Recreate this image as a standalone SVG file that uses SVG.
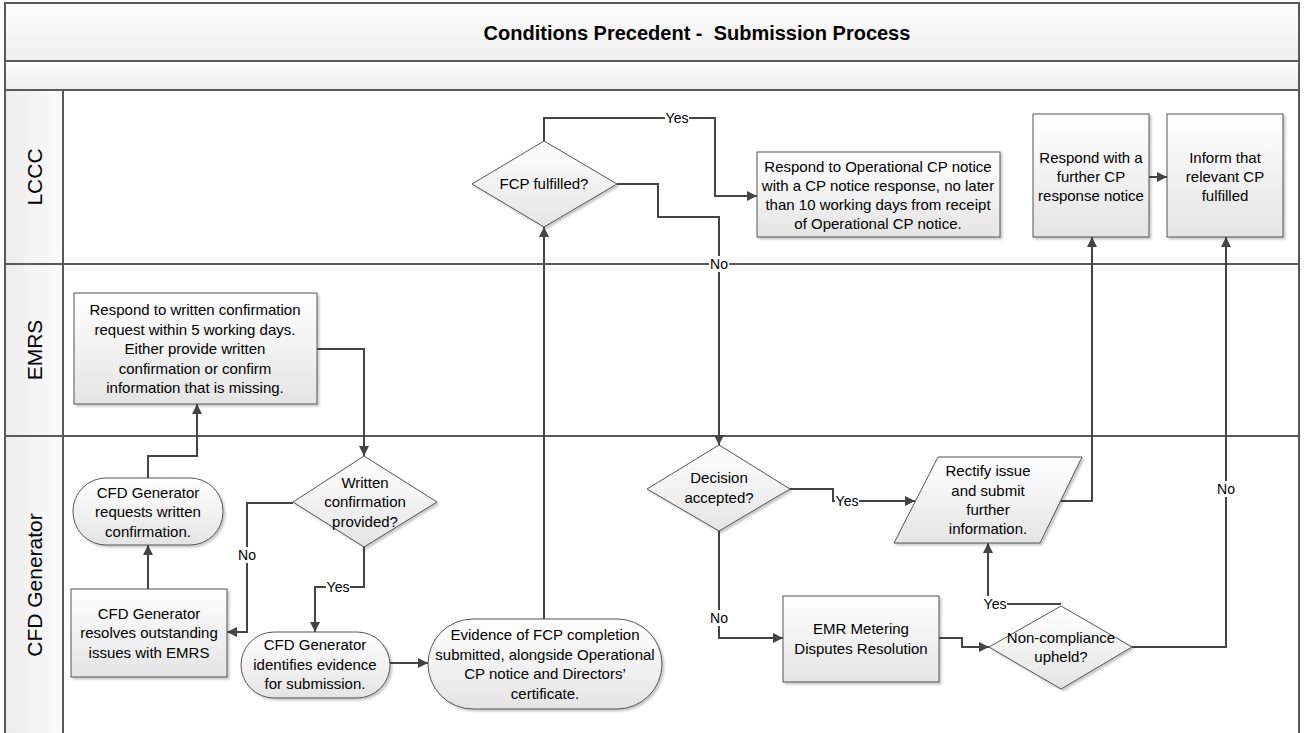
<svg xmlns="http://www.w3.org/2000/svg" width="1305" height="733" viewBox="0 0 1305 733">
<style>
text{font-family:"Liberation Sans",Arial,sans-serif;fill:#000}
.t{font-size:15px;text-anchor:middle}
.lbl{font-size:14px;text-anchor:middle}
.lane{font-size:21px;text-anchor:middle}
.title{font-size:20px;font-weight:bold;text-anchor:middle;white-space:pre}
.node{fill:url(#ng);stroke:#555;stroke-width:1;filter:url(#sh)}
.frame{fill:none;stroke:#595959;stroke-width:2}
.c{fill:none;stroke:#444;stroke-width:2;marker-end:url(#ah)}
.cn{fill:none;stroke:#444;stroke-width:2}
.bg{fill:#fff}
</style>
<defs>
<linearGradient id="ng" x1="0" y1="0" x2="0" y2="1"><stop offset="0" stop-color="#ffffff"/><stop offset="1" stop-color="#e4e4e4"/></linearGradient>
<linearGradient id="tg" x1="0" y1="0" x2="0" y2="1"><stop offset="0" stop-color="#fefefe"/><stop offset="1" stop-color="#eeeeee"/></linearGradient>
<linearGradient id="hg" x1="0" y1="0" x2="1" y2="0"><stop offset="0" stop-color="#ececec"/><stop offset="1" stop-color="#fbfbfb"/></linearGradient>
<filter id="sh" x="-10%" y="-10%" width="130%" height="130%"><feDropShadow dx="2" dy="2" stdDeviation="1.2" flood-color="#000" flood-opacity="0.22"/></filter>
<marker id="ah" viewBox="0 0 10 10" refX="10" refY="5" markerWidth="11" markerHeight="10" markerUnits="userSpaceOnUse" orient="auto"><path d="M0,0 L10,5 L0,10 z" fill="#444"/></marker>
</defs>

<g id="pool">
<rect x="5" y="3" width="1294" height="58" fill="url(#tg)"/>
<rect x="5" y="61" width="1294" height="29" fill="url(#tg)"/>
<rect x="5" y="90" width="58" height="650" fill="url(#hg)"/>
<rect x="5" y="3" width="1294" height="740" class="frame"/>
<line x1="5" y1="61" x2="1299" y2="61" class="frame"/>
<line x1="5" y1="90" x2="1299" y2="90" class="frame"/>
<line x1="63" y1="90" x2="63" y2="740" class="frame"/>
<line x1="5" y1="264" x2="1299" y2="264" class="frame"/>
<line x1="5" y1="436" x2="1299" y2="436" class="frame"/>
<text x="697" y="40" class="title" xml:space="preserve">Conditions Precedent -  Submission Process</text>
<text class="lane" transform="translate(42,177) rotate(-90)">LCCC</text>
<text class="lane" transform="translate(42,350) rotate(-90)">EMRS</text>
<text class="lane" transform="translate(42,585) rotate(-90)">CFD Generator</text>
</g>

<g id="connectors">
<path class="c" d="M544,141 V118 H715 V196 H757"/>
<path class="c" d="M617,184 H658 V217 H719 V445"/>
<path class="c" d="M544,619 V227"/>
<path class="c" d="M390,663 H428"/>
<path class="c" d="M148,478 V456 H197 V404"/>
<path class="c" d="M148,589 V545"/>
<path class="c" d="M317,349 H364 V456"/>
<path class="c" d="M293,503 H247 V632 H227"/>
<path class="c" d="M364,547 V587 H315 V632"/>
<path class="c" d="M790,489 H833 V501 H915"/>
<path class="c" d="M719,531 V638 H783"/>
<path class="c" d="M939,638 H962 V647 H989"/>
<path class="c" d="M1061,604 H988 V543"/>
<path class="c" d="M1060,501 H1092 V237"/>
<path class="c" d="M1132,647 H1226 V237"/>
<path class="c" d="M1149,177 H1167"/>
<rect class="bg" x="665" y="110" width="24" height="16"/><text x="677" y="123" class="lbl">Yes</text>
<rect class="bg" x="709" y="256" width="20" height="16"/><text x="719" y="269" class="lbl">No</text>
<rect class="bg" x="237" y="547" width="20" height="16"/><text x="247" y="560" class="lbl">No</text>
<rect class="bg" x="326" y="579" width="24" height="16"/><text x="338" y="592" class="lbl">Yes</text>
<rect class="bg" x="835" y="493" width="24" height="16"/><text x="847" y="506" class="lbl">Yes</text>
<rect class="bg" x="709" y="610" width="20" height="16"/><text x="719" y="623" class="lbl">No</text>
<rect class="bg" x="983" y="596" width="24" height="16"/><text x="995" y="609" class="lbl">Yes</text>
<rect class="bg" x="1216" y="481" width="20" height="16"/><text x="1226" y="494" class="lbl">No</text>
</g>

<g id="fcp-fulfilled">
<polygon class="node" points="544,141 617,184 544,227 472,184"/>
<text x="544" y="189" class="t">FCP fulfilled?</text>
</g>
<g id="respond-operational">
<rect class="node" x="757" y="152" width="243" height="85"/>
<text class="t"><tspan x="878" y="172">Respond to Operational CP notice</tspan><tspan x="878" y="191">with a CP notice response, no later</tspan><tspan x="878" y="210">than 10 working days from receipt</tspan><tspan x="878" y="229">of Operational CP notice.</tspan></text>
</g>
<g id="respond-further">
<rect class="node" x="1033" y="114" width="116" height="123"/>
<text class="t"><tspan x="1091" y="163">Respond with a</tspan><tspan x="1091" y="182">further CP</tspan><tspan x="1091" y="201">response notice</tspan></text>
</g>
<g id="inform">
<rect class="node" x="1167" y="114" width="116" height="123"/>
<text class="t"><tspan x="1225" y="163">Inform that</tspan><tspan x="1225" y="182">relevant CP</tspan><tspan x="1225" y="201">fulfilled</tspan></text>
</g>
<g id="emrs-respond">
<rect class="node" x="74" y="293" width="243" height="111"/>
<text class="t"><tspan x="195" y="315">Respond to written confirmation</tspan><tspan x="195" y="335">request within 5 working days.</tspan><tspan x="195" y="354">Either provide written</tspan><tspan x="195" y="374">confirmation or confirm</tspan><tspan x="195" y="393">information that is missing.</tspan></text>
</g>
<g id="requests">
<rect class="node" x="73" y="478" width="150" height="67" rx="33" ry="33"/>
<text class="t"><tspan x="148" y="498">CFD Generator</tspan><tspan x="148" y="517">requests written</tspan><tspan x="148" y="537">confirmation.</tspan></text>
</g>
<g id="resolves">
<rect class="node" x="71" y="589" width="156" height="88"/>
<text class="t"><tspan x="149" y="619">CFD Generator</tspan><tspan x="149" y="638">resolves outstanding</tspan><tspan x="149" y="658">issues with EMRS</tspan></text>
</g>
<g id="written-confirmation">
<polygon class="node" points="364,456 437,502 364,547 293,502"/>
<text class="t"><tspan x="365" y="488">Written</tspan><tspan x="365" y="507">confirmation</tspan><tspan x="365" y="527">provided?</tspan></text>
</g>
<g id="identifies">
<rect class="node" x="241" y="632" width="149" height="66" rx="33" ry="33"/>
<text class="t"><tspan x="315" y="650">CFD Generator</tspan><tspan x="315" y="670">identifies evidence</tspan><tspan x="315" y="689">for submission.</tspan></text>
</g>
<g id="evidence">
<rect class="node" x="428" y="619" width="234" height="90" rx="45" ry="45"/>
<text class="t"><tspan x="545" y="640">Evidence of FCP completion</tspan><tspan x="545" y="660">submitted, alongside Operational</tspan><tspan x="545" y="679">CP notice and Directors’</tspan><tspan x="545" y="699">certificate.</tspan></text>
</g>
<g id="decision">
<polygon class="node" points="719,445 790,489 719,531 647,489"/>
<text class="t"><tspan x="719" y="483">Decision</tspan><tspan x="719" y="503">accepted?</tspan></text>
</g>
<g id="rectify">
<polygon class="node" points="938,457 1082,457 1040,543 894,543"/>
<text class="t"><tspan x="988" y="476">Rectify issue</tspan><tspan x="988" y="496">and submit</tspan><tspan x="988" y="515">further</tspan><tspan x="988" y="534">information.</tspan></text>
</g>
<g id="emr-metering">
<rect class="node" x="783" y="596" width="156" height="86"/>
<text class="t"><tspan x="861" y="634">EMR Metering</tspan><tspan x="861" y="654">Disputes Resolution</tspan></text>
</g>
<g id="non-compliance">
<polygon class="node" points="1061,606 1132,647 1061,689 989,647"/>
<text class="t"><tspan x="1061" y="643">Non-compliance</tspan><tspan x="1061" y="662">upheld?</tspan></text>
</g>
</svg>
